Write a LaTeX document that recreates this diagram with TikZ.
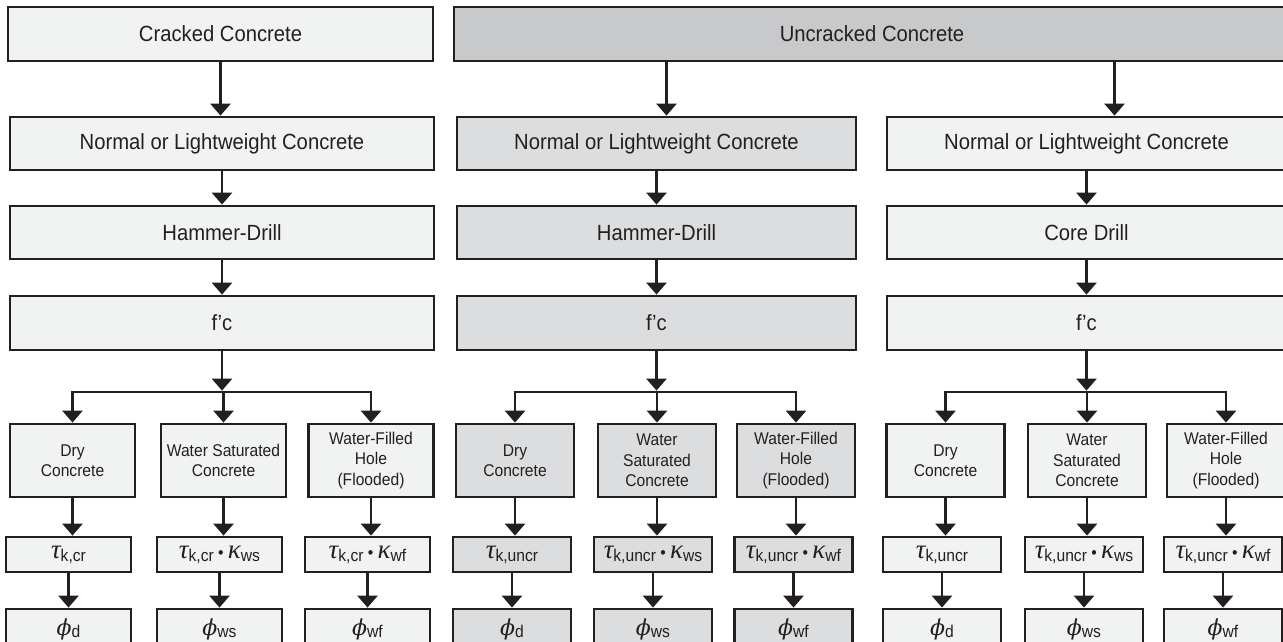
\documentclass[tikz,border=0pt]{standalone}
\usepackage{fontspec}
\setmainfont{Liberation Sans}[FakeStretch=0.92]
\newfontfamily\grk{Liberation Serif}
\newfontfamily\grkphi{DejaVu Serif}
\usetikzlibrary{arrows.meta}
\definecolor{lineC}{HTML}{231F20}
\definecolor{paleC}{HTML}{F1F2F2}
\definecolor{midC}{HTML}{DCDDDE}
\definecolor{darkC}{HTML}{C8C9CA}
\tikzset{
  box/.style={draw=lineC, line width=2.8pt, fill=paleC, text=lineC, inner sep=0pt, align=center},
  big/.style={box, minimum height=54pt, font=\fontsize{22}{26}\selectfont},
  cond/.style={box, minimum height=73pt, font=\fontsize{17}{20.5}\selectfont},
  res/.style={box, minimum height=35pt, font=\fontsize{17}{20}\selectfont},
  arr/.style={draw=lineC, line width=2.8pt, -{Triangle[width=20pt,length=12pt]}}
}
\newcommand{\gsub}[2]{{\grk\itshape\fontsize{27}{27}\selectfont #1}\raisebox{-3pt}{#2}}
\newcommand{\phsub}[1]{{\grkphi\itshape\fontsize{22}{22}\selectfont ϕ}\raisebox{-2pt}{#1}}
\newcommand{\down}[2]{\draw[arr] (#1.south) -- (#1.south |- #2.north);}
\newcommand{\branch}[4]{\draw[arr, shorten >=1.4pt] (#1.south) -- (#1.south |- br); \draw[arr] (#3.north |- br) -| (#2.north); \draw[arr] (#3.north |- br) -| (#4.north); \draw[arr] (#3.north |- br) -- (#3.north);}

\begin{document}
\begin{tikzpicture}[x=1pt,y=-1pt]
    \useasboundingbox (0,0) rectangle (1283,642);
    \coordinate (br) at (0,392);
    % top
    \node[big, minimum width=425pt] (crk) at (220.5,34) {Cracked Concrete};
    \node[big, fill=darkC, minimum width=836pt] (unc) at (872,34) {Uncracked Concrete};
    % concrete type
    \node[big, minimum width=424pt, minimum height=53pt] (nl1) at (222,143.5) {Normal or Lightweight Concrete};
    \node[big, fill=midC, minimum width=399pt, minimum height=53pt] (nl2) at (656.5,143.5) {Normal or Lightweight Concrete};
    \node[big, minimum width=399pt, minimum height=53pt] (nl3) at (1086.5,143.5) {Normal or Lightweight Concrete};
    % drilling
    \node[big, minimum width=424pt, minimum height=53pt] (dr1) at (222,232.5) {Hammer-Drill};
    \node[big, fill=midC, minimum width=399pt, minimum height=53pt] (dr2) at (656.5,232.5) {Hammer-Drill};
    \node[big, minimum width=399pt, minimum height=53pt] (dr3) at (1086.5,232.5) {Core Drill};
    % f'c
    \node[big, minimum width=424pt] (fc1) at (222,323) {f'c};
    \node[big, fill=midC, minimum width=399pt] (fc2) at (656.5,323) {f'c};
    \node[big, minimum width=399pt] (fc3) at (1086.5,323) {f'c};
    % hole condition
    \node[cond, minimum width=125pt] (dc1) at (72.5,460.5) {Dry\\Concrete};
    \node[cond, minimum width=125pt] (ws1) at (223.5,460.5) {Water Saturated\\Concrete};
    \node[cond, minimum width=125pt] (wf1) at (371,460.5) {Water-Filled\\Hole\\(Flooded)};
    \node[cond, fill=midC, minimum width=118pt] (dc2) at (515,460.5) {Dry\\Concrete};
    \node[cond, fill=midC, minimum width=118pt] (ws2) at (657,460.5) {Water\\Saturated\\Concrete};
    \node[cond, fill=midC, minimum width=118pt] (wf2) at (796,460.5) {Water-Filled\\Hole\\(Flooded)};
    \node[cond, minimum width=118pt] (dc3) at (945.5,460.5) {Dry\\Concrete};
    \node[cond, minimum width=118pt] (ws3) at (1087,460.5) {Water\\Saturated\\Concrete};
    \node[cond, minimum width=118pt] (wf3) at (1226,460.5) {Water-Filled\\Hole\\(Flooded)};
    % bond strength
    \node[res, minimum width=125pt] (tk1) at (68.5,554.5) {\gsub{τ}{k,cr}};
    \node[res, minimum width=125pt] (tw1) at (219.5,554.5) {\gsub{τ}{k,cr} \textbullet\ \gsub{κ}{ws}};
    \node[res, minimum width=125pt] (tf1) at (367.5,554.5) {\gsub{τ}{k,cr} \textbullet\ \gsub{κ}{wf}};
    \node[res, fill=midC, minimum width=118pt] (tk2) at (512,554.5) {\gsub{τ}{k,uncr}};
    \node[res, fill=midC, minimum width=118pt] (tw2) at (653,554.5) {\gsub{τ}{k,uncr} \textbullet\ \gsub{κ}{ws}};
    \node[res, fill=midC, minimum width=118pt] (tf2) at (793.5,554.5) {\gsub{τ}{k,uncr} \textbullet\ \gsub{κ}{wf}};
    \node[res, minimum width=118pt] (tk3) at (942,554.5) {\gsub{τ}{k,uncr}};
    \node[res, minimum width=118pt] (tw3) at (1084,554.5) {\gsub{τ}{k,uncr} \textbullet\ \gsub{κ}{ws}};
    \node[res, minimum width=118pt] (tf3) at (1223,554.5) {\gsub{τ}{k,uncr} \textbullet\ \gsub{κ}{wf}};
    % strength reduction
    \node[res, minimum width=125pt, minimum height=40pt] (pd1) at (68.5,629) {\phsub{d}};
    \node[res, minimum width=125pt, minimum height=40pt] (pw1) at (219.5,629) {\phsub{ws}};
    \node[res, minimum width=125pt, minimum height=40pt] (pf1) at (367.5,629) {\phsub{wf}};
    \node[res, fill=midC, minimum width=118pt, minimum height=40pt] (pd2) at (512,629) {\phsub{d}};
    \node[res, fill=midC, minimum width=118pt, minimum height=40pt] (pw2) at (653,629) {\phsub{ws}};
    \node[res, fill=midC, minimum width=118pt, minimum height=40pt] (pf2) at (793.5,629) {\phsub{wf}};
    \node[res, minimum width=118pt, minimum height=40pt] (pd3) at (942,629) {\phsub{d}};
    \node[res, minimum width=118pt, minimum height=40pt] (pw3) at (1084,629) {\phsub{ws}};
    \node[res, minimum width=118pt, minimum height=40pt] (pf3) at (1223,629) {\phsub{wf}};
    % arrows
    \down{crk}{nl1}
    \draw[arr] ([xshift=10pt]nl2.north |- unc.south) -- ([xshift=10pt]nl2.north);
    \draw[arr] ([xshift=28pt]nl3.north |- unc.south) -- ([xshift=28pt]nl3.north);
    \down{nl1}{dr1} \down{nl2}{dr2} \down{nl3}{dr3}
    \down{dr1}{fc1} \down{dr2}{fc2} \down{dr3}{fc3}
    \branch{fc1}{dc1}{ws1}{wf1}
    \branch{fc2}{dc2}{ws2}{wf2}
    \branch{fc3}{dc3}{ws3}{wf3}
    \down{dc1}{tk1} \down{ws1}{tw1} \down{wf1}{tf1}
    \down{dc2}{tk2} \down{ws2}{tw2} \down{wf2}{tf2}
    \down{dc3}{tk3} \down{ws3}{tw3} \down{wf3}{tf3}
    \down{tk1}{pd1} \down{tw1}{pw1} \down{tf1}{pf1}
    \down{tk2}{pd2} \down{tw2}{pw2} \down{tf2}{pf2}
    \down{tk3}{pd3} \down{tw3}{pw3} \down{tf3}{pf3}
\end{tikzpicture}
\end{document}
